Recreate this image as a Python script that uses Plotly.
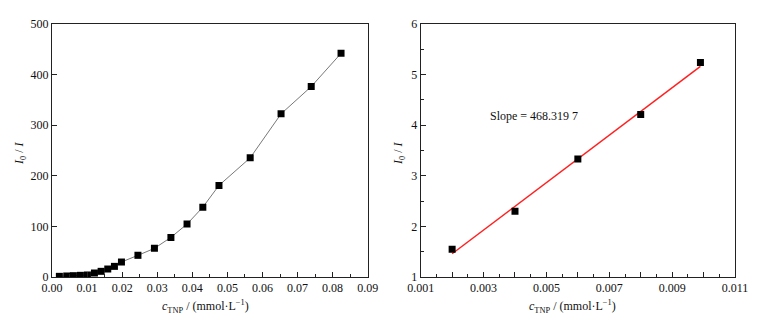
import numpy as np
import plotly.graph_objects as go

# Left panel data: c_TNP (mmol/L) vs I0/I
c_full = [0.0021, 0.0042, 0.0061, 0.0081, 0.0101, 0.0121, 0.0140, 0.0159, 0.0178, 0.0198,
          0.0245, 0.0292, 0.0339, 0.0385, 0.0430, 0.0476, 0.0565, 0.0653, 0.0739, 0.0824]
ratio_full = [1.3, 2.0, 2.6, 3.3, 4.0, 7.9, 11.2, 15.8, 21.0, 29.6,
              42.8, 56.6, 78.3, 104.6, 138.0, 181.0, 235.5, 322.4, 376.3, 442.0]

# Right panel data: low-concentration linear range
c_low = [0.0020, 0.0040, 0.0060, 0.0080, 0.0099]
ratio_low = [1.55, 2.30, 3.33, 4.21, 5.24]
slope_label = "Slope = 468.319 7"

left_xticks = [0.00, 0.01, 0.02, 0.03, 0.04, 0.05, 0.06, 0.07, 0.08, 0.09]
left_xticktext = ["0.00", "0.01", "0.02", "0.03", "0.04", "0.05", "0.06", "0.07", "0.08", "0.09"]
right_xticks = [0.001, 0.002, 0.003, 0.004, 0.005, 0.006, 0.007, 0.008, 0.009, 0.010, 0.011]
right_xticktext = ["0.001", "", "0.003", "", "0.005", "", "0.007", "", "0.009", "", "0.011"]

# Linear fit for the right panel
coef = np.polyfit(c_low, ratio_low, 1)
fit_x = [c_low[0], c_low[-1]]
fit_y = list(np.polyval(coef, fit_x))

FONT = "Liberation Serif, Times New Roman, serif"
AX = "#222222"
TXT = "#111111"

W, H = 765, 322
L, R, T, B = 52, 30, 24, 45
PW, PH = W - L - R, H - T - B


def px(xp):
    return (xp - L) / PW


def py(yp):
    return (H - B - yp) / PH


fig = go.Figure()
fig.add_trace(go.Scatter(x=c_full, y=ratio_full, mode="lines+markers",
                         line=dict(color="#555555", width=0.8),
                         marker=dict(symbol="square", size=7, color="black"),
                         xaxis="x", yaxis="y", showlegend=False))
fig.add_trace(go.Scatter(x=fit_x, y=fit_y, mode="lines",
                         line=dict(color="#ff2020", width=1.5),
                         xaxis="x2", yaxis="y2", showlegend=False))
fig.add_trace(go.Scatter(x=c_low, y=ratio_low, mode="markers",
                         marker=dict(symbol="square", size=7, color="black"),
                         xaxis="x2", yaxis="y2", showlegend=False))

common = dict(showgrid=False, zeroline=False, showline=True, linecolor=AX, linewidth=1,
              mirror=True, ticks="inside", ticklen=5, tickwidth=1, tickcolor=AX,
              automargin=False,
              tickfont=dict(family=FONT, size=12, color=TXT))

fig.update_layout(
    width=W, height=H,
    margin=dict(l=L, r=R, t=T, b=B),
    paper_bgcolor="white", plot_bgcolor="white",
    font=dict(family=FONT, size=12, color=TXT),
    xaxis=dict(domain=[0, px(367.7)], range=[0, 0.09], anchor="y",
               tickmode="array", tickvals=left_xticks, ticktext=left_xticktext,
               minor=dict(dtick=0.005, ticks="inside", ticklen=3, tickcolor=AX), **common),
    yaxis=dict(domain=[0, 1], range=[0, 500], anchor="x", dtick=100,
               **common),
    xaxis2=dict(domain=[px(420.7), 1], range=[0.001, 0.011], anchor="y2",
                tickmode="array", tickvals=right_xticks, ticktext=right_xticktext,
                minor=dict(dtick=0.0005, ticks="inside", ticklen=3, tickcolor=AX), **common),
    yaxis2=dict(domain=[0, 1], range=[1, 6], anchor="x2", dtick=1,
                minor=dict(dtick=0.5, ticks="inside", ticklen=3, tickcolor=AX), **common),
)

title_y = "<i>I</i><sub>0</sub> / <i>I</i>"
title_x = "<i>c</i><sub>TNP</sub> / (mmol·L<sup>−1</sup>)"
anns = [
    dict(x=px(20), y=py(153), text=title_y, textangle=-90),
    dict(x=px(399), y=py(153), text=title_y, textangle=-90),
    dict(x=px(205), y=py(306), text=title_x),
    dict(x=px(572), y=py(306), text=title_x),
]
for a in anns:
    fig.add_annotation(xref="paper", yref="paper", xanchor="center", yanchor="middle",
                       showarrow=False, font=dict(family=FONT, size=12, color=TXT), **a)

fig.add_annotation(xref="x2", yref="y2", x=0.00313, y=4.18, text=slope_label,
                   xanchor="left", yanchor="middle", showarrow=False,
                   font=dict(family=FONT, size=12, color=TXT))

fig.write_html("out.html", config={"displayModeBar": False},
               post_script="document.body.style.margin='0';document.body.style.padding='0';")
